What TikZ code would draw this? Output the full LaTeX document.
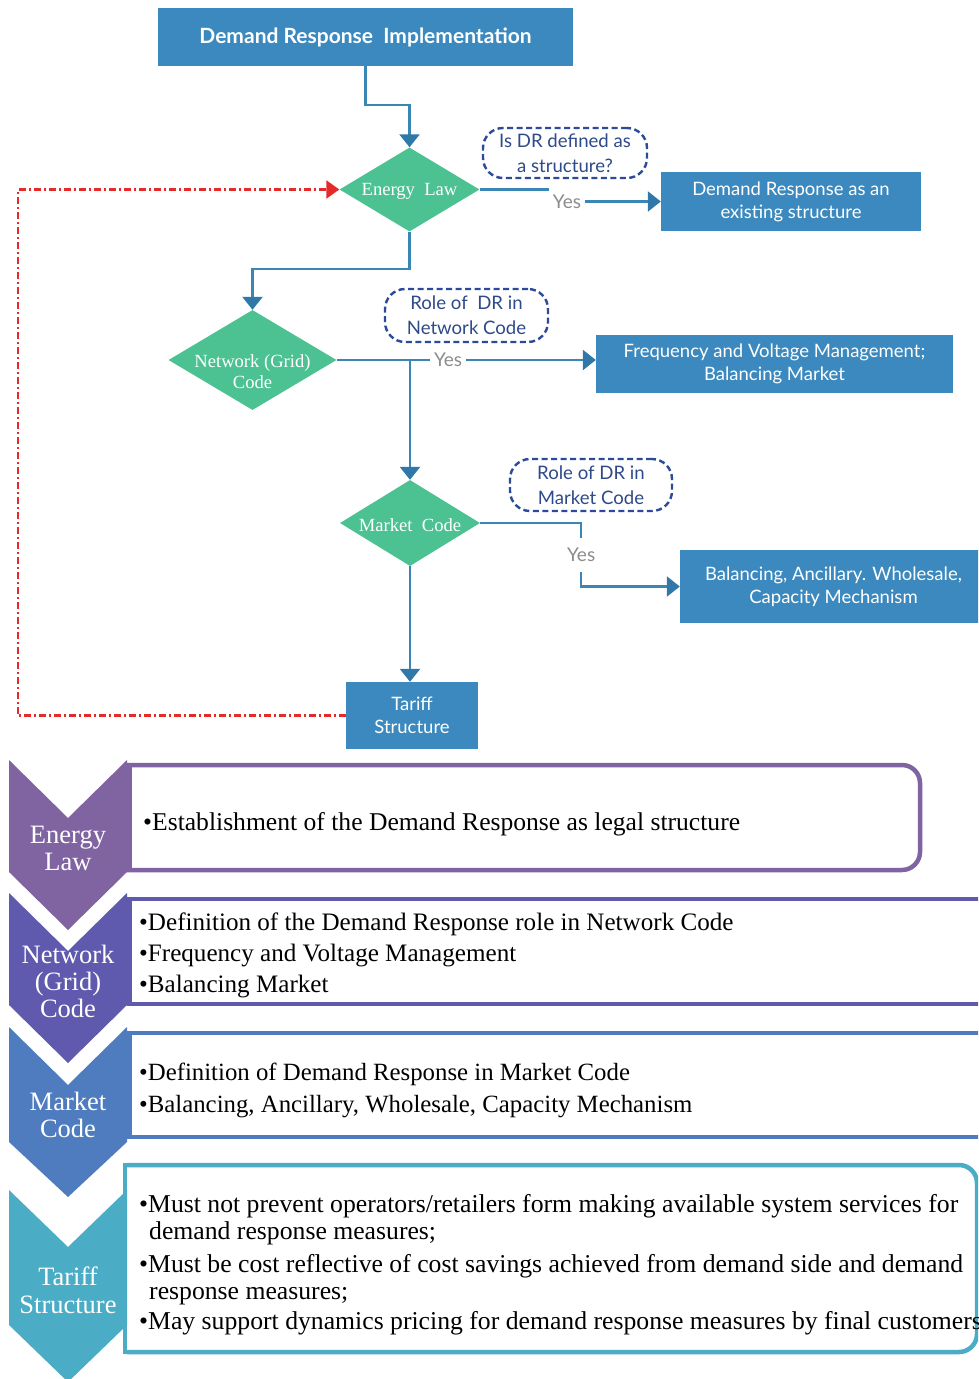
\documentclass[tikz,border=0pt]{standalone}
\usepackage{fontspec}
\setmainfont{Liberation Serif}
\newfontfamily\flowfont{Lato}
\usetikzlibrary{arrows.meta,shapes.geometric}

\definecolor{boxblue}{HTML}{3B89BE}
\definecolor{linecol}{HTML}{3A86B4}
\definecolor{arrowcol}{HTML}{2F78A8}
\definecolor{diagreen}{HTML}{4CC192}
\definecolor{callcol}{HTML}{2B4A9A}
\definecolor{calltext}{HTML}{2F4A8A}
\definecolor{yesgray}{HTML}{8C8C8C}
\definecolor{redline}{HTML}{E52A2A}
\definecolor{purp}{HTML}{8064A2}
\definecolor{indigo}{HTML}{5F5AAD}
\definecolor{mblue}{HTML}{4F7CBE}
\definecolor{tealc}{HTML}{4BACC6}

\begin{document}
\begin{tikzpicture}[x=1pt,y=-1pt,
  bluebox/.style={rectangle, fill=boxblue, text=white, align=center, inner sep=0pt,
    font=\flowfont\fontsize{18.5}{23}\selectfont},
  decision/.style={diamond, fill=diagreen, inner sep=0pt},
  dlabel/.style={text=white, align=center, inner sep=0pt,
    font=\fontsize{18.6}{21}\selectfont},
  callout/.style={draw=callcol, dash pattern=on 6pt off 3.5pt, line width=2.4pt,
    rounded corners=20pt, text=calltext, align=center, inner sep=0pt,
    font=\flowfont\fontsize{18.6}{25}\selectfont},
  flow/.style={draw=linecol, line width=2.4pt,
    -{Triangle[length=13pt,width=20pt,color=arrowcol]}},
  redflow/.style={draw=redline, line width=2.4pt,
    dash pattern=on 7pt off 3pt on 2pt off 3pt,
    -{Triangle[length=13pt,width=18pt,color=redline]}},
  yes/.style={fill=white, text=yesgray, inner xsep=4pt, minimum height=28pt,
    font=\flowfont\fontsize{19}{20}\selectfont},
  yestall/.style={yes, minimum height=34pt},
  frame/.style={line width=4.5pt},
  chevtext/.style={text=white, anchor=base, inner sep=0pt,
    font=\fontsize{26.5}{28}\selectfont},
  bodytext/.style={anchor=base west, inner sep=0pt}
]
\useasboundingbox (0,0) rectangle (978,1379);
\fill[white] (0,0) rectangle (978,1379);
\clip (0,0) rectangle (978,1379);

% ---------------- flowchart ----------------
\node[bluebox, minimum width=415pt, minimum height=58pt,
  font=\flowfont\bfseries\fontsize{21}{24}\selectfont] (title) at (365.5,37)
  {Demand Response\ \ Implementation};

\node[decision, minimum width=140pt, minimum height=84pt,
  label={[dlabel, yshift=-2pt]center:{Energy\ \ Law}}] (EL) at (409.5,189.5) {};
\node[decision, minimum width=168pt, minimum height=100pt,
  label={[dlabel, yshift=-12pt]center:{Network (Grid)\\Code}}] (NC) at (252.5,360) {};
\node[decision, minimum width=140pt, minimum height=86pt,
  label={[dlabel, yshift=-2pt]center:{Market\ \ Code}}] (MC) at (410,523) {};

\node[bluebox, minimum width=132pt, minimum height=67pt] (TS) at (412,715.5)
  {Tariff\\Structure};
\node[bluebox, minimum width=260pt, minimum height=59pt] (DR) at (791,201.5)
  {Demand Response as an\\existing structure};
\node[bluebox, minimum width=357pt, minimum height=58pt] (FVM) at (774.5,364)
  {Frequency and Voltage Management;\\Balancing Market};
\node[bluebox, minimum width=307pt, minimum height=73pt] (BAW) at (833.5,586.5)
  {Balancing, Ancillary. Wholesale,\\Capacity Mechanism};

\node[callout, minimum width=164pt, minimum height=50pt] (q1) at (565,153)
  {Is DR defined as\\a structure?};
\node[callout, minimum width=163pt, minimum height=53pt] (q2) at (466.5,315.5)
  {Role of\ \ DR in\\Network Code};
\node[callout, minimum width=162pt, minimum height=52pt] (q3) at (591,485)
  {Role of DR in\\Market Code};

% connectors
\draw[flow] (title.south) -- ++(0,39) -| (EL.north);
\draw[flow] (EL.east) -- ++(72,0) |- node[yes, pos=0.57] {Yes} (DR.west);
\draw[flow] (EL.south) -- ++(0,37) -| (NC.north);
\draw[flow] (NC.east) -- node[yes, pos=0.43] {Yes} (FVM.west |- NC.east);
\draw[flow] (MC.north |- NC.east) -- (MC.north);
\draw[flow] (MC.east) -- ++(101,0) |- node[yestall, pos=0.25] {Yes} (BAW.west);
\draw[flow] (MC.south) -- (MC.south |- TS.north);
\draw[redflow] (TS.west) -- ++(-328,0) |- (EL.west);

% ---------------- chevron list ----------------
% text frames
\draw[purp, frame, rounded corners=18pt] (127,765) -- (920,765) -- (920,870) -- (127,870);
\draw[purp, frame, line cap=rect] (129.5,765) -- (129.5,870);
\draw[indigo, frame] (127,899) -- (990,899) (127,1004) -- (990,1004);
\draw[indigo, frame, line cap=rect] (129.5,899) -- (129.5,1004);
\draw[mblue, frame] (127,1033) -- (990,1033) (127,1137) -- (990,1137);
\draw[mblue, frame, line cap=rect] (129.5,1033) -- (129.5,1137);
\draw[tealc, frame, rounded corners=18pt] (127,1165) -- (977,1165) -- (977,1352) -- (127,1352);
\draw[tealc, frame, line cap=rect] (125,1165) -- (125,1352);

% chevrons
\fill[purp] (9,760) -- (68,818) -- (127,760) -- (127,872) -- (68,930) -- (9,872) -- cycle;
\fill[indigo] (9,893) -- (68,951) -- (127,893) -- (127,1005) -- (68,1063) -- (9,1005) -- cycle;
\fill[mblue] (9,1027) -- (68,1085) -- (127,1027) -- (127,1142) -- (68,1197) -- (9,1142) -- cycle;
\fill[tealc] (9,1190) -- (68,1247) -- (127,1190) -- (127,1325) -- (68,1382) -- (9,1325) -- cycle;

\node[chevtext] (c1a) at (68,843) {Energy};
\node[chevtext] (c1b) at (68,870) {Law};
\node[chevtext] (c2a) at (68,963) {Network};
\node[chevtext] (c2b) at (68,990) {(Grid)};
\node[chevtext] (c2c) at (68,1017) {Code};
\node[chevtext] (c3a) at (68,1110) {Market};
\node[chevtext] (c3b) at (68,1137) {Code};
\node[chevtext] (c4a) at (68,1285) {Tariff};
\node[chevtext] (c4b) at (68,1313) {Structure};

% bullet texts
\begin{scope}[every node/.append style={font=\fontsize{25.6}{30}\selectfont}]
\node[bodytext] (t1) at (143,830) {•Establishment of the Demand Response as legal structure};
\end{scope}
\begin{scope}[every node/.append style={font=\fontsize{25.1}{30}\selectfont}]
\node[bodytext] (t2) at (139,930) {•Definition of the Demand Response role in Network Code};
\node[bodytext] (t3) at (139,961) {•Frequency and Voltage Management};
\node[bodytext] (t4) at (139,992) {•Balancing Market};
\end{scope}
\begin{scope}[every node/.append style={font=\fontsize{24.8}{30}\selectfont}]
\node[bodytext] (t5) at (139,1080) {•Definition of Demand Response in Market Code};
\node[bodytext] (t6) at (139,1112) {•Balancing, Ancillary, Wholesale, Capacity Mechanism};
\end{scope}
\begin{scope}[every node/.append style={font=\fontsize{25.7}{30}\selectfont}]
\node[bodytext] (t7) at (139,1212) {•Must not prevent operators/retailers form making available system services for};
\node[bodytext] (t8) at (149,1239) {demand response measures;};
\node[bodytext] (t9) at (139,1272) {•Must be cost reflective of cost savings achieved from demand side and demand};
\node[bodytext] (t10) at (149,1299) {response measures;};
\node[bodytext] (t11) at (139,1329) {•May support dynamics pricing for demand response measures by final customers};
\end{scope}
\end{tikzpicture}
\end{document}
